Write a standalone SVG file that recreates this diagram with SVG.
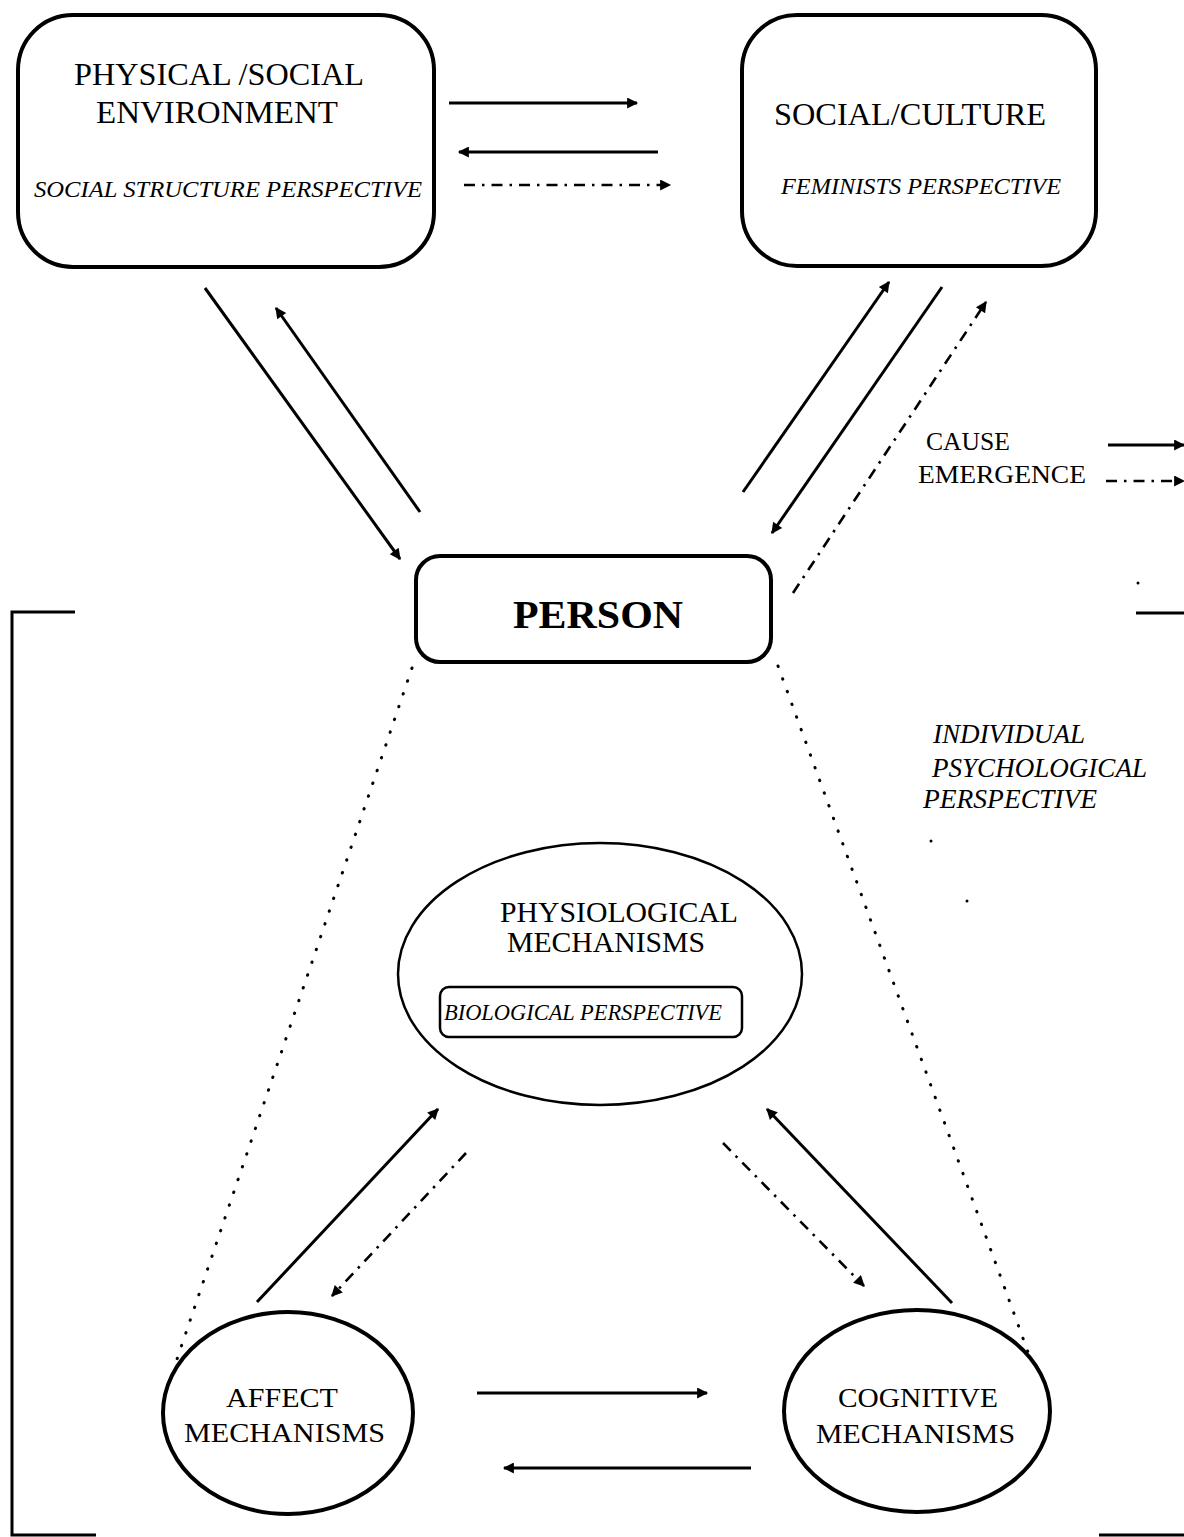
<svg xmlns="http://www.w3.org/2000/svg" width="1184" height="1537" viewBox="0 0 1184 1537">
  <style>
    .txt { font-family: "Liberation Serif", "Times New Roman", serif; fill: #000; }
    .it { font-style: italic; }
    .box { fill: none; stroke: #000; stroke-width: 4; }
    .oval { fill: none; stroke: #000; stroke-width: 4; }
    .solid { fill: none; stroke: #000; stroke-width: 3; marker-end: url(#head); }
    .dashdot { fill: none; stroke: #000; stroke-width: 2.6; stroke-dasharray: 11 7 2.5 7; marker-end: url(#head); }
    .dotted { fill: none; stroke: #000; stroke-width: 3; stroke-linecap: round; stroke-dasharray: 0.5 13; }
    .frame { fill: none; stroke: #000; stroke-width: 3; }
  </style>
  <defs>
    <marker id="head" viewBox="0 0 10 10" refX="9" refY="5" markerWidth="14" markerHeight="11" markerUnits="userSpaceOnUse" orient="auto">
      <path d="M0,0 L10,5 L0,10 z" fill="#000"/>
    </marker>
  </defs>
  <rect width="1184" height="1537" fill="#fff"/>

  <!-- bracket marking the individual psychological level -->
  <g id="bracket">
    <path class="frame" d="M75,612 H12 V1535 H96"/>
    <path class="frame" d="M1136,613 H1184"/>
    <path class="frame" d="M1099,1535 H1184"/>
    <circle cx="1138" cy="583" r="1.5" fill="#000"/>
    <circle cx="931" cy="841" r="1.5" fill="#000"/>
    <circle cx="967" cy="901" r="1.5" fill="#000"/>
  </g>

  <g id="node-environment">
    <rect class="box" x="18" y="15" width="416" height="252" rx="55" ry="55"/>
    <text class="txt" x="74" y="85" font-size="31" textLength="290" lengthAdjust="spacingAndGlyphs">PHYSICAL /SOCIAL</text>
    <text class="txt" x="96" y="123" font-size="31" textLength="242" lengthAdjust="spacingAndGlyphs">ENVIRONMENT</text>
    <text class="txt it" x="34" y="197" font-size="24" textLength="388" lengthAdjust="spacingAndGlyphs">SOCIAL STRUCTURE PERSPECTIVE</text>
  </g>

  <g id="node-culture">
    <rect class="box" x="742" y="15" width="354" height="251" rx="55" ry="55"/>
    <text class="txt" x="774" y="125" font-size="31" textLength="272" lengthAdjust="spacingAndGlyphs">SOCIAL/CULTURE</text>
    <text class="txt it" x="781" y="194" font-size="24" textLength="280" lengthAdjust="spacingAndGlyphs">FEMINISTS PERSPECTIVE</text>
  </g>

  <g id="node-person">
    <rect class="box" x="416" y="556" width="355" height="106" rx="24" ry="24"/>
    <text class="txt" x="513" y="628" font-size="40" font-weight="bold" textLength="170" lengthAdjust="spacingAndGlyphs">PERSON</text>
  </g>

  <g id="node-physiological">
    <ellipse cx="600" cy="974" rx="202" ry="131" fill="none" stroke="#000" stroke-width="2.5"/>
    <text class="txt" x="500" y="922" font-size="30" textLength="238" lengthAdjust="spacingAndGlyphs">PHYSIOLOGICAL</text>
    <text class="txt" x="507" y="952" font-size="30" textLength="198" lengthAdjust="spacingAndGlyphs">MECHANISMS</text>
    <rect x="440" y="987" width="302" height="50" rx="9" ry="9" fill="none" stroke="#000" stroke-width="2.5"/>
    <text class="txt it" x="444" y="1020" font-size="24" textLength="278" lengthAdjust="spacingAndGlyphs">BIOLOGICAL PERSPECTIVE</text>
  </g>

  <g id="node-affect">
    <ellipse class="oval" cx="288" cy="1413" rx="125" ry="101"/>
    <text class="txt" x="226" y="1407" font-size="28" textLength="112" lengthAdjust="spacingAndGlyphs">AFFECT</text>
    <text class="txt" x="184" y="1442" font-size="28" textLength="201" lengthAdjust="spacingAndGlyphs">MECHANISMS</text>
  </g>

  <g id="node-cognitive">
    <ellipse class="oval" cx="917" cy="1411" rx="133" ry="101"/>
    <text class="txt" x="838" y="1407" font-size="28" textLength="160" lengthAdjust="spacingAndGlyphs">COGNITIVE</text>
    <text class="txt" x="816" y="1443" font-size="28" textLength="199" lengthAdjust="spacingAndGlyphs">MECHANISMS</text>
  </g>

  <g id="legend">
    <text class="txt" x="926" y="450" font-size="26" textLength="84" lengthAdjust="spacingAndGlyphs">CAUSE</text>
    <text class="txt" x="918" y="483" font-size="26" textLength="168" lengthAdjust="spacingAndGlyphs">EMERGENCE</text>
    <line class="solid" x1="1108" y1="445" x2="1184" y2="445"/>
    <line class="dashdot" x1="1106" y1="481" x2="1184" y2="481"/>
  </g>

  <g id="label-individual">
    <text class="txt it" x="933" y="743" font-size="27" textLength="152" lengthAdjust="spacingAndGlyphs">INDIVIDUAL</text>
    <text class="txt it" x="932" y="777" font-size="27" textLength="215" lengthAdjust="spacingAndGlyphs">PSYCHOLOGICAL</text>
    <text class="txt it" x="923" y="808" font-size="27" textLength="174" lengthAdjust="spacingAndGlyphs">PERSPECTIVE</text>
  </g>

  <g id="connectors">
    <!-- environment <-> culture -->
    <line class="solid" x1="449" y1="103" x2="637" y2="103"/>
    <line class="solid" x1="658" y1="152" x2="459" y2="152"/>
    <line class="dashdot" x1="464" y1="185" x2="670" y2="185"/>
    <!-- environment <-> person -->
    <line class="solid" x1="205" y1="288" x2="400" y2="559"/>
    <line class="solid" x1="420" y1="512" x2="276" y2="308"/>
    <!-- person <-> culture -->
    <line class="solid" x1="743" y1="492" x2="889" y2="282"/>
    <line class="solid" x1="942" y1="287" x2="772" y2="533"/>
    <line class="dashdot" x1="793" y1="593" x2="986" y2="302"/>
    <!-- person to the lower mechanisms -->
    <line class="dotted" x1="412" y1="668" x2="176" y2="1362"/>
    <line class="dotted" x1="778" y1="666" x2="1032" y2="1363"/>
    <!-- affect <-> physiological -->
    <line class="solid" x1="257" y1="1302" x2="438" y2="1109"/>
    <line class="dashdot" x1="466" y1="1153" x2="332" y2="1296"/>
    <!-- cognitive <-> physiological -->
    <line class="solid" x1="952" y1="1303" x2="767" y2="1109"/>
    <line class="dashdot" x1="723" y1="1143" x2="864" y2="1286"/>
    <!-- affect <-> cognitive -->
    <line class="solid" x1="477" y1="1393" x2="707" y2="1393"/>
    <line class="solid" x1="751" y1="1468" x2="504" y2="1468"/>
  </g>
</svg>
